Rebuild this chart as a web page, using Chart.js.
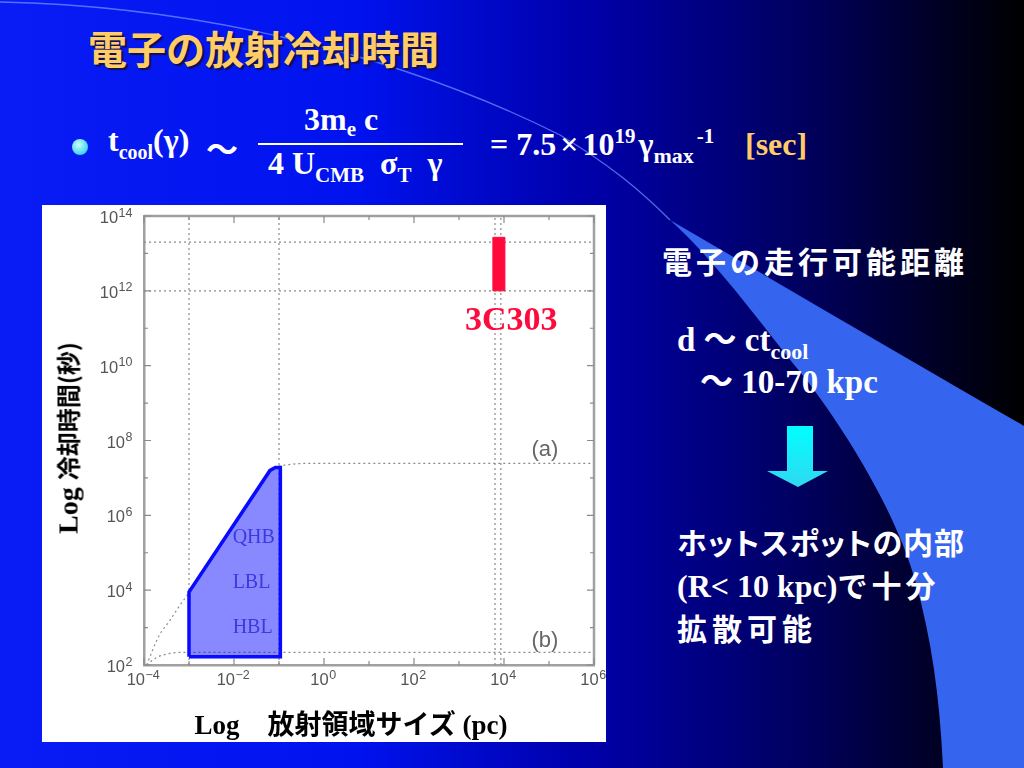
<!DOCTYPE html>
<html>
<head>
<meta charset="utf-8">
<script src="https://cdn.jsdelivr.net/npm/chart.js@4.4.0/dist/chart.umd.min.js"></script>
<style>
html, body { margin: 0; padding: 0; }
body {
  width: 1024px; height: 768px; overflow: hidden; position: relative;
  background: linear-gradient(90deg, #0a1cf5 0%, #0012ee 35%, #0000a8 58%, #000060 78%, #000000 100%);
  color: #fff;
}
.abs { position: absolute; white-space: nowrap; z-index: 2; }
.serif { font-family: 'Liberation Serif', 'Times New Roman', serif; font-weight: bold; }
.goth { font-family: 'Noto Sans CJK JP', sans-serif; font-weight: bold; }
.sub { position: relative; top: 8px; font-size: 21px; }
.sup { position: relative; top: -12px; font-size: 21px; }
#deco { position: absolute; left: 0; top: 0; z-index: 0; }
#chartBox { position: absolute; left: 42px; top: 205px; width: 564px; height: 537px; background: #fff; z-index: 1; }
</style>
</head>
<body>

<svg id="deco" width="1024" height="768">
  <defs>
    <linearGradient id="cy" x1="0" y1="0" x2="0" y2="1">
      <stop offset="0" stop-color="#00ffff"/>
      <stop offset="1" stop-color="#30d8f0"/>
    </linearGradient>
    <radialGradient id="ball" cx="0.4" cy="0.35" r="0.7">
      <stop offset="0" stop-color="#c8ffff"/>
      <stop offset="1" stop-color="#30d0e8"/>
    </radialGradient>
  </defs>
  <path d="M0,2 C200,6 400,55 560,135 C610,165 640,190 670,220" stroke="rgba(110,140,255,0.75)" stroke-width="1.3" fill="none"/>
  <path d="M670,220 C790,290 910,360 1024,426 L1024,768 L943,768 C940,700 932,640 915,580 C895,510 845,430 805,378 C765,330 720,265 670,220 Z" fill="#3565ee"/>
  <circle cx="80" cy="147" r="8" fill="url(#ball)"/>
  <polygon points="787,426 813,426 813,471 828,471 798,487 767,471 787,471" fill="url(#cy)"/>
</svg>

<div class="abs goth" style="left:88px;top:19px;font-size:39px;color:#ffcc66;text-shadow:2px 2px 1px #10104a;">電子の放射冷却時間</div>

<div class="abs serif" style="left:108px;top:122px;font-size:32px;">t<span class="sub" style="font-size:20px">cool</span>(γ)</div>
<div class="abs goth" style="left:206px;top:124px;font-size:32px;">～</div>
<div class="abs serif" style="left:304px;top:101px;font-size:32px;">3m<span class="sub" style="top:6px">e</span> c</div>
<div class="abs" style="left:258px;top:143px;width:205px;height:2px;background:#fff;"></div>
<div class="abs serif" style="left:268px;top:145px;font-size:32px;">4 U<span class="sub">CMB</span><span style="margin-left:16px">σ</span><span class="sub">T</span><span style="margin-left:16px">γ</span></div>
<div class="abs serif" style="left:490px;top:126px;font-size:32px;">= 7.5<span style="margin:0 4px">×</span>10<span class="sup">19</span><span style="margin-left:3px">γ</span><span class="sub" style="font-size:22px">max</span><span class="sup" style="margin-left:3px">-1</span></div>
<div class="abs serif" style="left:745px;top:126px;font-size:32px;color:#ffcc66">[sec]</div>

<div class="abs goth" style="left:662px;top:238px;font-size:30px;letter-spacing:4px;">電子の走行可能距離</div>
<div class="abs serif" style="left:677px;top:313px;font-size:33px;">d <span class="goth">～</span> ct<span class="sub" style="font-size:22px">cool</span></div>
<div class="abs serif" style="left:700px;top:355px;font-size:33px;"><span class="goth">～</span> 10-70 kpc</div>
<div class="abs goth" style="left:677px;top:519px;font-size:30px;letter-spacing:1px;font-feature-settings:'palt';">ホットスポットの内部</div>
<div class="abs" style="left:677px;top:562px;font-size:30px;"><span class="serif" style="font-size:32px">(R&lt; 10 kpc)</span><span class="goth" style="letter-spacing:4px">で十分</span></div>
<div class="abs goth" style="left:677px;top:605px;font-size:30px;letter-spacing:5px;">拡散可能</div>

<div class="abs" style="left:67px;top:438px;transform:translate(-50%,-50%) rotate(-90deg);color:#000;">
  <span class="serif" style="font-size:28px">Log </span><span class="goth" style="font-size:24px">冷却時間(秒)</span>
</div>
<div class="abs" style="left:351px;top:722px;transform:translate(-50%,-50%);color:#000;">
  <span class="serif" style="font-size:27px">Log</span><span style="display:inline-block;width:28px"></span><span class="goth" style="font-size:27px">放射領域サイズ</span><span class="serif" style="font-size:27px"> (pc)</span>
</div>

<div id="chartBox"><canvas id="chart" width="564" height="537"></canvas></div>

<script>
// values, as log10 of size (pc) and log10 of cooling time (s)
const xLabelExps = [-4, -2, 0, 2, 4, 6];
const yLabelExps = [2, 4, 6, 8, 10, 12, 14];

const curveA_logR = [-3.94, -3.68, -3.42, -3.2, -3.0, -2.03, -1.46, -1.14, -0.82, -0.17, 6];
const curveA_logT = [2.0, 2.75, 3.2, 3.6, 3.93, 5.7, 6.72, 7.23, 7.35, 7.39, 7.39];
const curveB_logR = [-3.94, -3.72, -3.42, -3.02, 6];
const curveB_logT = [2.0, 2.2, 2.31, 2.34, 2.34];

const regionLogR = [-3, -3, -1.2, -1.08, -0.97, -0.97];
const regionLogT = [2.22, 3.95, 7.2, 7.28, 7.28, 2.22];

const barLogR = [3.76, 4.02];
const barLogT = [12.0, 13.43];

const guideLogR = [-3, -1, 3.8, 3.93];
const guideLogT = [13.3, 12];

function toPoints(xs, ys) {
  return xs.map((x, i) => ({x: x, y: ys[i]}));
}

const dotted = {showLine: true, pointRadius: 0, borderColor: '#8a8a8a', borderWidth: 1.2, borderDash: [2, 3], fill: false};

let datasets = [];
// blue region (drawn on top)
datasets.push({
  data: toPoints(regionLogR.concat([regionLogR[0]]), regionLogT.concat([regionLogT[0]])),
  showLine: true, pointRadius: 0, borderColor: '#0a0aff', borderWidth: 3.5,
  backgroundColor: 'rgba(20,20,255,0.5)', fill: 'shape'
});
// 3C303 bar
datasets.push({
  data: toPoints([barLogR[0], barLogR[1], barLogR[1], barLogR[0], barLogR[0]],
                 [barLogT[0], barLogT[0], barLogT[1], barLogT[1], barLogT[0]]),
  showLine: true, pointRadius: 0, borderColor: '#ff0a3c', borderWidth: 1,
  backgroundColor: '#ff0a3c', fill: 'shape'
});
datasets.push(Object.assign({data: toPoints(curveA_logR, curveA_logT), cubicInterpolationMode: 'monotone'}, dotted));
datasets.push(Object.assign({data: toPoints(curveB_logR, curveB_logT), cubicInterpolationMode: 'monotone'}, dotted));
guideLogR.forEach(v => datasets.push(Object.assign({data: [{x: v, y: 2}, {x: v, y: 14}]}, dotted)));
guideLogT.forEach(v => datasets.push(Object.assign({data: [{x: -4, y: v}, {x: 6, y: v}]}, dotted)));

// "10" with a raised exponent
function drawPow(ctx, e, x, base, align) {
  const exp = String(e).replace('-', '\u2212');
  ctx.font = "16.5px 'Liberation Sans'";
  const w1 = ctx.measureText('10').width;
  ctx.font = "12.5px 'Liberation Sans'";
  const w2 = ctx.measureText(exp).width;
  let left = align === 'right' ? x - w1 - w2 : x - (w1 + w2) / 2 - 1;
  ctx.font = "16.5px 'Liberation Sans'";
  ctx.fillText('10', left, base);
  ctx.font = "12.5px 'Liberation Sans'";
  ctx.fillText(exp, left + w1 + 0.5, base - 6.5);
}

// inward ticks, top/right frame, tick labels and the text inside the plot
const frameAndNotes = {
  id: 'frameAndNotes',
  afterDatasetsDraw(chart) {
    const {ctx, chartArea: a, scales: {x, y}} = chart;
    ctx.save();
    ctx.strokeStyle = '#a0a0a0';
    ctx.lineWidth = 2.5;
    ctx.beginPath();
    ctx.moveTo(a.left, a.top);
    ctx.lineTo(a.right, a.top);
    ctx.lineTo(a.right, a.bottom);
    ctx.stroke();

    ctx.strokeStyle = '#8a8a8a';
    ctx.lineWidth = 1.2;
    ctx.beginPath();
    x.ticks.forEach(t => {
      const px = x.getPixelForValue(t.value);
      const len = xLabelExps.includes(t.value) ? 7 : 4;
      ctx.moveTo(px, a.bottom); ctx.lineTo(px, a.bottom - len);
      ctx.moveTo(px, a.top); ctx.lineTo(px, a.top + len);
    });
    y.ticks.forEach(t => {
      const py = y.getPixelForValue(t.value);
      const len = yLabelExps.includes(t.value) ? 7 : 4;
      ctx.moveTo(a.left, py); ctx.lineTo(a.left + len, py);
      ctx.moveTo(a.right, py); ctx.lineTo(a.right - len, py);
    });
    ctx.stroke();

    ctx.fillStyle = '#555';
    ctx.textAlign = 'left';
    ctx.textBaseline = 'alphabetic';
    x.ticks.forEach(t => {
      if (xLabelExps.includes(t.value)) drawPow(ctx, t.value, x.getPixelForValue(t.value), a.bottom + 20, 'center');
    });
    y.ticks.forEach(t => {
      if (yLabelExps.includes(t.value)) drawPow(ctx, t.value, a.left - 12, y.getPixelForValue(t.value) + 7, 'right');
    });

    ctx.textBaseline = 'middle';
    ctx.fillStyle = '#3a3ae0';
    ctx.font = "20px 'Liberation Serif'";
    [['QHB', 5.4], ['LBL', 4.2], ['HBL', 3.0]].forEach(([s, v]) => {
      ctx.fillText(s, x.getPixelForValue(-2.03), y.getPixelForValue(v));
    });

    ctx.fillStyle = '#666';
    ctx.font = "22px 'Liberation Sans'";
    ctx.textAlign = 'center';
    ctx.fillText('(a)', x.getPixelForValue(4.91), y.getPixelForValue(7.74));
    ctx.fillText('(b)', x.getPixelForValue(4.91), y.getPixelForValue(2.64));

    ctx.fillStyle = '#ff0a3c';
    ctx.font = "bold 34px 'Liberation Serif'";
    ctx.fillText('3C303', x.getPixelForValue(4.16), y.getPixelForValue(11.2));
    ctx.restore();
  }
};

new Chart(document.getElementById('chart'), {
  type: 'scatter',
  data: {datasets: datasets},
  options: {
    responsive: false,
    animation: false,
    devicePixelRatio: 1,
    layout: {padding: {top: 11, right: 12, left: 0, bottom: 0}},
    plugins: {legend: {display: false}, tooltip: {enabled: false}},
    scales: {
      x: {
        type: 'linear', min: -4, max: 6,
        afterFit: s => { s.height = 77; },
        grid: {display: false, drawTicks: false},
        border: {display: true, color: '#a0a0a0', width: 2.5},
        ticks: {stepSize: 1, autoSkip: false, display: false}
      },
      y: {
        type: 'linear', min: 2, max: 14,
        afterFit: s => { s.width = 102; },
        grid: {display: false, drawTicks: false},
        border: {display: true, color: '#a0a0a0', width: 2.5},
        ticks: {stepSize: 1, autoSkip: false, display: false}
      }
    }
  },
  plugins: [frameAndNotes]
});
</script>
</body>
</html>
